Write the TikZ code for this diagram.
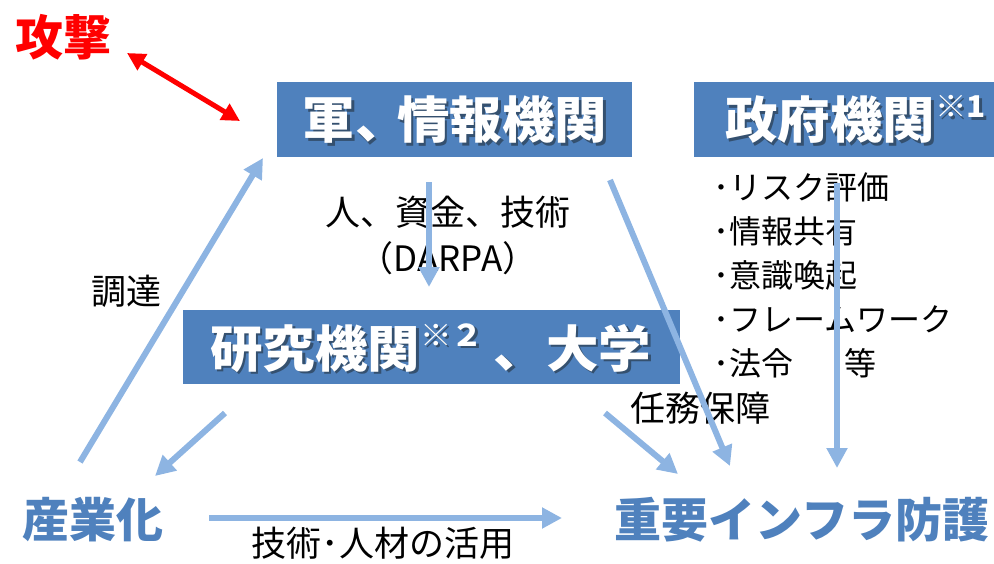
\documentclass[tikz,border=0pt]{standalone}
\usepackage{fontspec}
\usepackage{graphicx}
\setmainfont{Noto Sans CJK JP}
\usetikzlibrary{arrows.meta}
\definecolor{boxblue}{HTML}{4F81BD}
\definecolor{arrblue}{HTML}{8DB4E2}
\definecolor{shadowcol}{HTML}{34506F}
\newcommand\widen[1]{\scalebox{1.05}[1]{#1}}
\newcommand\supmark[1]{\raisebox{0.42em}{\fontsize{30}{30}\selectfont #1}}
\newcommand\shadowed[1]{\makebox[0pt][l]{\hspace{2.5pt}\raisebox{-2.5pt}{\textcolor{shadowcol}{#1}}}#1}
\begin{document}
\begin{tikzpicture}[x=1pt,y=-1pt,
  box/.style={fill=boxblue, draw=none},
  titletxt/.style={text=white, inner sep=0pt, font=\fontsize{50}{50}\selectfont\bfseries},
  bluetxt/.style={text=boxblue, inner sep=0pt, font=\fontsize{47}{47}\selectfont\bfseries},
  lbl/.style={inner sep=0pt, font=\fontsize{35}{35}\selectfont},
  bullet/.style={inner sep=0pt, anchor=west, font=\fontsize{32}{32}\selectfont},
  flow/.style={draw=arrblue, line width=6pt, -{Triangle[width=20pt,length=20pt]}},
  redarrow/.style={draw=red, line width=5pt, {Triangle[width=18pt,length=18pt]}-{Triangle[width=18pt,length=18pt]}}
]
\useasboundingbox (0,0) rectangle (994,563);
\clip (0,0) rectangle (994,563);

% boxes
\node[box, minimum width=355pt, minimum height=75pt, anchor=north west] (gunbox) at (277,82) {};
\node[box, minimum width=320pt, minimum height=75pt, anchor=north west] (govbox) at (694,82) {};
\node[box, minimum width=497pt, minimum height=74pt, anchor=north west] (resbox) at (183,310) {};

% titles with shadow
\node[titletxt] (gun) at (455,121) {\widen{\shadowed{軍、\hspace{-0.2em}情報機関}}};
\node[titletxt, anchor=west] (gov) at (725,121) {\widen{\shadowed{政府機関\supmark{※1}}}};
\node[titletxt, anchor=west] (res) at (210,349) {\widen{\shadowed{研究機関\supmark{※２}\hspace{0.2em}、大学}}};

% attack
\node[text=red, inner sep=0pt, font=\fontsize{48}{48}\selectfont\bfseries] (attack) at (64,37) {攻撃};

% bottom labels
\node[bluetxt] (ind) at (93,520) {産業化};
\node[bluetxt] (infra) at (802,520) {重要インフラ防護};

% small labels
\node[lbl] (money) at (448,212) {人、資金、技術};
\node[lbl] (darpa) at (448,258) {（DARPA）};
\node[lbl] (proc) at (126,291) {調達};
\node[lbl] (mission) at (700,408) {任務保障};
\node[lbl] (use) at (383,543) {技術･人材の活用};
\node[bullet] (b1) at (713,187) {･リスク評価};
\node[bullet] (b2) at (713,231) {･情報共有};
\node[bullet] (b3) at (713,275) {･意識喚起};
\node[bullet] (b4) at (713,319) {･フレームワーク};
\node[bullet] (b5) at (713,363) {･法令\hspace{1.6em}等};

% arrow endpoints
\coordinate (p1s) at (80,462);   \coordinate (p1e) at (263,158);
\coordinate (p2s) at (225,413);  \coordinate (p2e) at (155,476);
\coordinate (p3s) at (429,182);  \coordinate (p3e) at (429,287);
\coordinate (p4s) at (610,180);  \coordinate (p4e) at (730,466);
\coordinate (p5s) at (605,413);  \coordinate (p5e) at (678,474);
\coordinate (p6s) at (837,183);  \coordinate (p6e) at (837,468);
\coordinate (p7s) at (209,518);  \coordinate (p7e) at (562,518);
\coordinate (r1) at (127,53);    \coordinate (r2) at (240,121);

\draw[flow] (p1s) -- (p1e);
\draw[flow] (p2s) -- (p2e);
\draw[flow] (p3s) -- (p3e);
\draw[flow] (p4s) -- (p4e);
\draw[flow] (p5s) -- (p5e);
\draw[flow] (p6s) -- (p6e);
\draw[flow] (p7s) -- (p7e);
\draw[redarrow] (r1) -- (r2);
\end{tikzpicture}
\end{document}
